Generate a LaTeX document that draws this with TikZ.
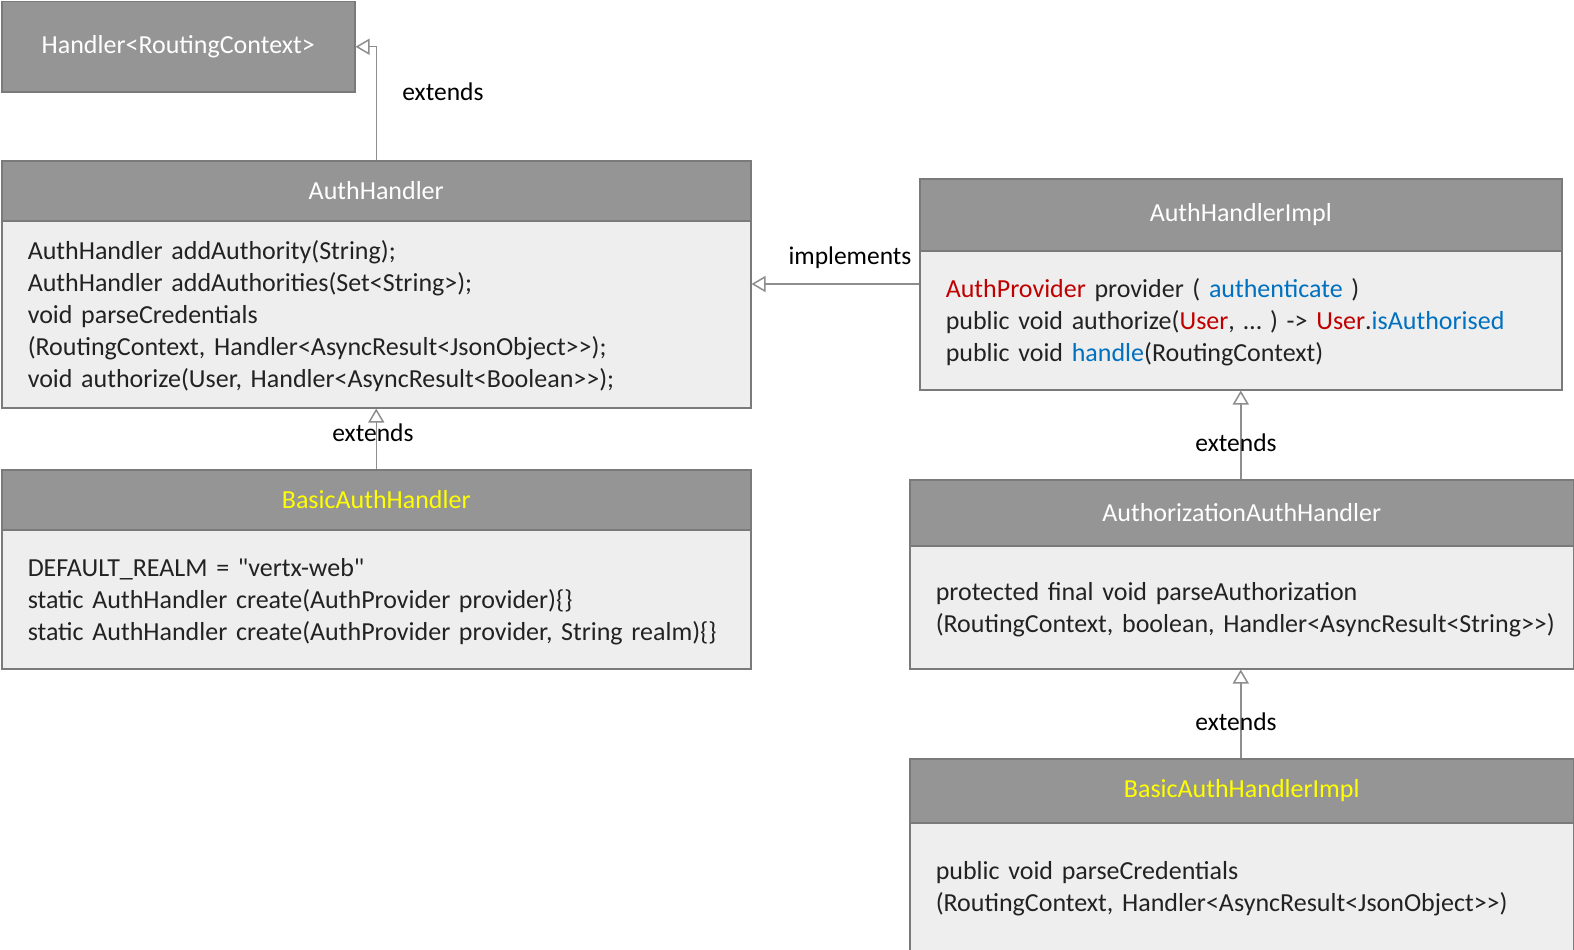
\documentclass[tikz,border=0pt]{standalone}
\usepackage{fontspec}
\setmainfont{Carlito}[Ligatures=TeXOff]
\usetikzlibrary{arrows.meta}
\definecolor{hdrgray}{HTML}{959595}
\definecolor{bodygray}{HTML}{EEEEEE}
\definecolor{edgegray}{HTML}{7A7A7A}
\definecolor{linegray}{HTML}{8E8E8E}
\definecolor{jred}{HTML}{C00000}
\definecolor{jblue}{HTML}{0070C0}
\definecolor{txt}{HTML}{222222}
\definecolor{ttl}{HTML}{FFFF00}
\begin{document}
\begin{tikzpicture}[x=1pt,y=-1pt,
 hdr/.style={draw=edgegray, line width=1.5pt, fill=hdrgray, text=white, anchor=north west, inner sep=0pt, font=\fontsize{26}{30}\selectfont},
 bodybox/.style={draw=edgegray, line width=1.5pt, fill=bodygray, text=txt, anchor=north west, inner xsep=26pt, inner ysep=0pt, align=left, font=\fontsize{26}{32}\selectfont},
 rel/.style={draw=linegray, line width=1.5pt, -{Triangle[open, length=14pt, width=16pt]}},
 lbl/.style={font=\fontsize{25.5}{30}\selectfont, text=black, inner sep=0pt}]
\useasboundingbox[fill=white] (0,0) rectangle (1574,950);

% Handler<RoutingContext>
\node[hdr, minimum width=353pt, minimum height=90pt] (hrc) at (1,1) {Handler<RoutingContext>};

% AuthHandler
\node[hdr, minimum width=749pt, minimum height=60pt] (ahh) at (1,160) {AuthHandler};
\node[bodybox, text width=697pt, minimum height=187pt] (ahb) at (1,220) {\strut AuthHandler addAuthority(String);\\
AuthHandler addAuthorities(Set<String>);\\
void parseCredentials\\
(RoutingContext, Handler<AsyncResult<JsonObject>{}>);\\
void authorize(User, Handler<AsyncResult<Boolean>{}>);};

% BasicAuthHandler
\node[hdr, text=ttl, minimum width=749pt, minimum height=60pt] (bahh) at (1,469) {BasicAuthHandler};
\node[bodybox, text width=697pt, minimum height=139pt] (bahb) at (1,529) {\strut DEFAULT\_REALM = "vertx-web"\\
static AuthHandler create(AuthProvider provider)\{\}\\
static AuthHandler create(AuthProvider provider, String realm)\{\}};

% AuthHandlerImpl
\node[hdr, minimum width=642pt, minimum height=72pt] (ahih) at (919,178) {AuthHandlerImpl};
\node[bodybox, text width=590pt, minimum height=139pt] (ahib) at (919,250) {\strut\textcolor{jred}{AuthProvider} provider ( \textcolor{jblue}{authenticate} )\\
public void authorize(\textcolor{jred}{User}, \dots\ ) -> \textcolor{jred}{User}.\textcolor{jblue}{isAuthorised}\\
public void \textcolor{jblue}{handle}(RoutingContext)};

% AuthorizationAuthHandler
\node[hdr, minimum width=664pt, minimum height=66pt] (aahh) at (909,479) {AuthorizationAuthHandler};
\node[bodybox, text width=612pt, minimum height=123pt] (aahb) at (909,545) {\strut protected final void parseAuthorization\\
\mbox{(RoutingContext, boolean, Handler<AsyncResult<String>{}>)}};

% BasicAuthHandlerImpl
\node[hdr, text=ttl, minimum width=664pt, minimum height=64pt] (bahih) at (909,758) {BasicAuthHandlerImpl};
\node[bodybox, text width=612pt, minimum height=128pt] (bahib) at (909,822) {\strut public void parseCredentials\\
\mbox{(RoutingContext, Handler<AsyncResult<JsonObject>{}>)}};

% connectors
\draw[rel] (ahh.north) |- (hrc.east);
\node[lbl] (l1) at (443,92) {extends};

\draw[rel] (ahib.west |- 0,284) -- (ahb.east |- 0,284);
\node[lbl] (l2) at (850,258) {implements};

\draw[rel] (bahh.north) -- (ahb.south);
\node[lbl] (l3) at (373,433) {extends};

\draw[rel] (ahib.south |- aahh.north) -- (ahib.south);
\node[lbl] (l4) at (1236,443) {extends};

\draw[rel] (ahib.south |- bahih.north) -- (ahib.south |- aahb.south);
\node[lbl] (l5) at (1236,722) {extends};
\end{tikzpicture}
\end{document}
